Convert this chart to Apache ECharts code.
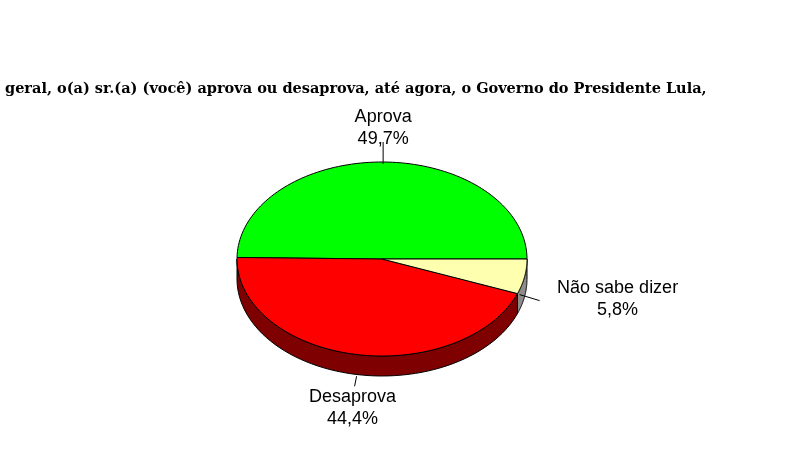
<!DOCTYPE html>
<html><head><meta charset="utf-8">
<script src="https://cdn.jsdelivr.net/npm/echarts@6/dist/echarts.min.js"></script>
<style>html,body{margin:0;padding:0;background:#fff}#c{width:788px;height:457px}</style>
</head><body><div id="c"></div>
<script>
const categories = ['Aprova', 'Desaprova', 'Não sabe dizer'];
const values = [49.7, 44.4, 5.8];
const labels = ['49,7%', '44,4%', '5,8%'];
const topColors = ['#00ff00', '#ff0000', '#ffffb0'];
const sideColors = ['#007f00', '#7f0000', '#8c8c8c'];
const titleText = 'geral, o(a) sr.(a) (você) aprova ou desaprova, até agora, o Governo do Presidente Lula,';

const chart = echarts.init(document.getElementById('c'));
const total = values.reduce((a, b) => a + b, 0);
const starts = []; let acc = 0;
values.forEach(v => { starts.push(acc); acc += v; });
const cx = 382, cy = 259, rx = 145, ry = 97, depth = 20;
const pt = (t, d) => [cx + rx * Math.cos(t), cy - ry * Math.sin(t) + (d || 0)];
const lab = [[0, -34, 0, -20, 0, 2], [-2, 34, 2, 2, 0, 12], [93, 2, -5, -2, 15, 4]];

chart.setOption({
  animation: false,
  title: { text: titleText, left: 0, top: 77, textStyle: { fontFamily: 'DejaVu Serif', fontWeight: 'bold', fontSize: 14.5, color: '#000' } },
  xAxis: { show: false }, yAxis: { show: false },
  series: [{
    type: 'custom', coordinateSystem: 'none',
    data: values.map((v, i) => [i, v]),
    renderItem: function (params, api) {
      const i = api.value(0), v = api.value(1);
      const t0 = starts[i] / total * 2 * Math.PI, t1 = (starts[i] + v) / total * 2 * Math.PI;
      const children = [];
      const a0 = Math.max(t0, Math.PI), a1 = Math.min(t1, 2 * Math.PI);
      if (a1 > a0) {
        const s = [];
        const n = 60;
        for (let k = 0; k <= n; k++) s.push(pt(a0 + (a1 - a0) * k / n));
        for (let k = n; k >= 0; k--) s.push(pt(a0 + (a1 - a0) * k / n, depth));
        children.push({ type: 'polygon', z2: 1, shape: { points: s }, style: { fill: sideColors[i], stroke: '#000', lineWidth: 1 } });
      }
      const p = [[cx, cy]];
      const n = 100;
      for (let k = 0; k <= n; k++) p.push(pt(t0 + (t1 - t0) * k / n));
      children.push({ type: 'polygon', z2: 10, shape: { points: p }, style: { fill: topColors[i], stroke: '#000', lineWidth: 1 } });
      const tm = (t0 + t1) / 2;
      const e = pt(tm, Math.sin(tm) < 0 ? depth : 0);
      const L = lab[i];
      children.push({ type: 'line', z2: 20, shape: { x1: e[0] + L[2], y1: e[1] + L[3], x2: e[0] + L[4], y2: e[1] + L[5] }, style: { stroke: '#000', lineWidth: 1 } });
      children.push({ type: 'text', z2: 20, x: e[0] + L[0], y: e[1] + L[1], style: {
        text: categories[i] + '\n' + labels[i], align: 'center', verticalAlign: 'middle',
        font: '18px "Liberation Sans"', fill: '#000', lineHeight: 22 } });
      return { type: 'group', children };
    }
  }]
});
</script></body></html>
